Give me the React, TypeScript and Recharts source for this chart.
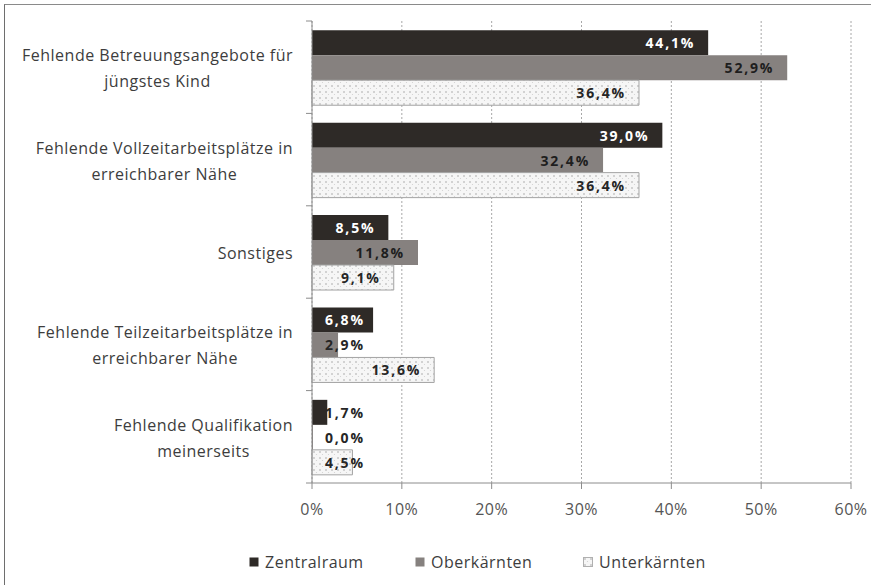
import { Bar, BarChart, CartesianGrid, LabelList, XAxis, YAxis } from "recharts";

document.body.style.margin = "0";

// categories, top to bottom, with the line breaks used in the original
const categories = [
  "Fehlende Betreuungsangebote für jüngstes Kind",
  "Fehlende Vollzeitarbeitsplätze in erreichbarer Nähe",
  "Sonstiges",
  "Fehlende Teilzeitarbeitsplätze in erreichbarer Nähe",
  "Fehlende Qualifikation meinerseits",
];
const categoryLines = [
  ["Fehlende Betreuungsangebote für", "jüngstes Kind"],
  ["Fehlende Vollzeitarbeitsplätze in", "erreichbarer Nähe"],
  ["Sonstiges"],
  ["Fehlende Teilzeitarbeitsplätze in", "erreichbarer Nähe"],
  ["Fehlende Qualifikation", "meinerseits"],
];

const zentralraum = [44.1, 39.0, 8.5, 6.8, 1.7];
const oberkaernten = [52.9, 32.4, 11.8, 2.9, 0.0];
const unterkaernten = [36.4, 36.4, 9.1, 13.6, 4.5];

const seriesNames = ["Zentralraum", "Oberkärnten", "Unterkärnten"];
const xTicks = [0, 10, 20, 30, 40, 50, 60];

const data = categories.map((name, i) => ({
  name,
  zentralraum: zentralraum[i],
  oberkaernten: oberkaernten[i],
  unterkaernten: unterkaernten[i],
}));

const FONT = "'Open Sans', 'Liberation Sans', sans-serif";
const TEXT = "#3d3d3d";
const AXIS = "#8c8c8c";
const BORDER = "#c4c4c4";
const DARK = "#2e2a27";
const MID = "#86817f";

const PLOT_LEFT = 312;

let ctx: CanvasRenderingContext2D | null = null;
function measure(s: string, font: string, spacing: number) {
  if (!ctx) ctx = document.createElement("canvas").getContext("2d");
  if (!ctx) return s.length * 8;
  ctx.font = font;
  return ctx.measureText(s).width + spacing * s.length;
}

const fmt = (v: number) => `${v.toFixed(1).replace(".", ",")}%`;

function CategoryTick(props: any) {
  const { y, payload } = props;
  const idx = categories.indexOf(payload.value);
  const lines = categoryLines[idx] ?? [String(payload.value)];
  const half = payload.offset ?? 46.2;
  const widths = lines.map((l) => measure(l, `16px ${FONT}`, 0.5));
  const block = Math.max(...widths);
  const cx = PLOT_LEFT - 19 - block / 2;
  const y0 = y - ((lines.length - 1) * 26) / 2 + 1;
  return (
    <g>
      <line x1={PLOT_LEFT - 6} x2={PLOT_LEFT} y1={y - half} y2={y - half} stroke={AXIS} />
      {idx === categories.length - 1 && (
        <line x1={PLOT_LEFT - 6} x2={PLOT_LEFT} y1={y + half} y2={y + half} stroke={AXIS} />
      )}
      {lines.map((l, i) => (
        <text
          key={i}
          x={cx}
          y={y0 + i * 26}
          textAnchor="middle"
          dominantBaseline="central"
          fill={TEXT}
          fontSize={16}
          fontFamily={FONT}
          style={{ letterSpacing: 0.5 }}
        >
          {l}
        </text>
      ))}
    </g>
  );
}

// Excel-style "inside end" label, pushed right when the bar is too short
function barLabel(insideColor: string, outsideColor: string) {
  return (props: any) => {
    const { x, y, width, height, value } = props;
    const s = fmt(Number(value));
    const tw = measure(s, `bold 14px ${FONT}`, 1.8);
    const start = Math.max(x + width - 13 - tw, x + 13);
    const onBar = x + width >= start + tw - 4;
    return (
      <text
        x={start}
        y={y + height / 2}
        dominantBaseline="central"
        fill={onBar ? insideColor : outsideColor}
        fontSize={14}
        fontWeight="bold"
        fontFamily={FONT}
        style={{ letterSpacing: 1.8 }}
      >
        {s}
      </text>
    );
  };
}

const legendLeft = [249, 415, 583];
const legendFill = [DARK, MID, "url(#dots)"];

export default function App() {
  return (
    <div style={{ position: "relative", width: 871, height: 585, background: "#fff", overflow: "hidden" }}>
      <div style={{ position: "absolute", left: 4, top: 4, right: -10, bottom: -10, borderTop: "1px solid #8a8a8a", borderLeft: "1px solid #6e6e6e" }} />
      <svg width={0} height={0} style={{ position: "absolute" }}>
        <defs>
          <pattern id="dots" width={6} height={6} patternUnits="userSpaceOnUse">
            <rect width={6} height={6} fill="#f6f6f6" />
            <path d="M1 1 L3 3 M3 1 L1 3" stroke="#c9c9c9" strokeWidth={0.8} />
            <circle cx={4.5} cy={4.5} r={0.6} fill="#d0d0d0" />
          </pattern>
        </defs>
      </svg>
      <div style={{ position: "absolute", left: 0, top: 0 }}>
        <BarChart
          width={871}
          height={585}
          data={data}
          layout="vertical"
          margin={{ top: 21, right: 20, bottom: 72, left: 0 }}
          barCategoryGap="10%"
          barGap={0}
        >
          <CartesianGrid horizontal={false} stroke="#a8a8a8" strokeDasharray="2 2" />
          <XAxis
            type="number"
            domain={[0, 60]}
            ticks={xTicks}
            tickFormatter={(v: number) => `${v}%`}
            axisLine={{ stroke: AXIS }}
            tickLine={{ stroke: AXIS }}
            tickSize={6}
            tickMargin={15}
            height={30}
            tick={{ fill: "#555", fontSize: 16, fontFamily: FONT, letterSpacing: 0.5 }}
          />
          <XAxis
            xAxisId="top"
            orientation="top"
            type="number"
            domain={[0, 60]}
            height={0}
            tick={false}
            tickLine={false}
            axisLine={{ stroke: BORDER }}
          />
          <YAxis
            type="category"
            dataKey="name"
            width={PLOT_LEFT}
            axisLine={{ stroke: AXIS }}
            tickLine={false}
            interval={0}
            tick={<CategoryTick />}
          />
          <YAxis
            yAxisId="right"
            orientation="right"
            type="category"
            dataKey="name"
            width={0}
            tick={false}
            tickLine={false}
            axisLine={{ stroke: BORDER }}
          />
          <Bar dataKey="zentralraum" name={seriesNames[0]} fill={DARK} isAnimationActive={false}>
            <LabelList dataKey="zentralraum" content={barLabel("#ffffff", "#262626")} />
          </Bar>
          <Bar dataKey="oberkaernten" name={seriesNames[1]} fill={MID} minPointSize={1} isAnimationActive={false}>
            <LabelList dataKey="oberkaernten" content={barLabel("#1e1e1e", "#262626")} />
          </Bar>
          <Bar
            dataKey="unterkaernten"
            name={seriesNames[2]}
            fill="url(#dots)"
            stroke="#a3a3a3"
            strokeWidth={1}
            isAnimationActive={false}
          >
            <LabelList dataKey="unterkaernten" content={barLabel("#262626", "#262626")} />
          </Bar>
        </BarChart>
      </div>
      {seriesNames.map((n, i) => (
        <div
          key={n}
          style={{
            position: "absolute",
            left: legendLeft[i],
            top: 552,
            height: 20,
            display: "flex",
            alignItems: "center",
            fontFamily: FONT,
            fontSize: 16,
            letterSpacing: 0.5,
            color: TEXT,
            whiteSpace: "nowrap",
          }}
        >
          <svg width={10} height={10} style={{ marginRight: 6 }}>
            <rect x={0.5} y={0.5} width={9} height={9} fill={legendFill[i]} stroke={i === 2 ? "#b0b0b0" : "none"} />
          </svg>
          {n}
        </div>
      ))}
    </div>
  );
}
